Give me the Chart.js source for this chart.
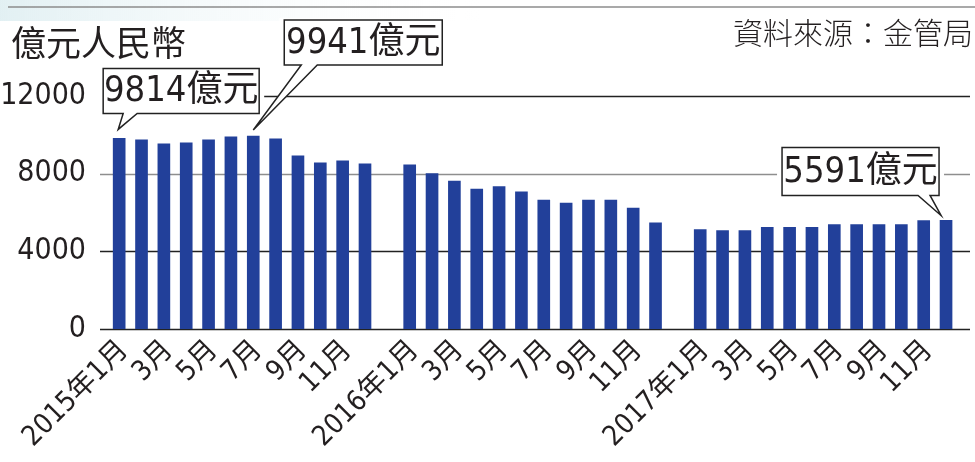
<!DOCTYPE html>
<html>
<head>
<meta charset="utf-8">
<script src="https://cdn.jsdelivr.net/npm/chart.js@4"></script>
<style>
  html, body { margin: 0; padding: 0; background: #fff; }
  canvas { display: block; }
</style>
</head>
<body>
<canvas id="chart1" width="975" height="462"></canvas>
<script>
// RMB deposits in Hong Kong, 100 million yuan
var years = ["2015", "2016", "2017"];
var months = ["1月", "2月", "3月", "4月", "5月", "6月", "7月", "8月", "9月", "10月", "11月", "12月"];
var values2015 = [9814, 9740, 9540, 9590, 9740, 9900, 9941, 9790, 8920, 8560, 8660, 8510];
var values2016 = [8460, 8000, 7620, 7210, 7330, 7070, 6640, 6490, 6640, 6640, 6230, 5470];
var values2017 = [5120, 5070, 5070, 5230, 5230, 5230, 5380, 5380, 5380, 5380, 5580, 5591];
var yTicks = [0, 4000, 8000, 12000];
var unitLabel = "億元人民幣";
var sourceLabel = "資料來源：金管局";

// one empty slot between years
var categories = [];
var values = [];
var series = [values2015, values2016, values2017];
for (var y = 0; y < years.length; y++) {
    for (var m = 0; m < 12; m++) {
        categories.push(m === 0 ? years[y] + "年" + months[m] : months[m]);
        values.push(series[y][m]);
    }
    if (y < years.length - 1) {
        categories.push("");
        values.push(null);
    }
}

// callouts: bar index, text, box placement relative to the bar top
var callouts = [
    { index: 0, text: "9814億元", dx: -16, dy: -70, w: 156, h: 45, baseL: 4, baseR: 18, tipDx: -1, tipDy: -9 },
    { index: 6, text: "9941億元", dx: 31, dy: -116, w: 158, h: 45, baseL: 48, baseR: 64, tipDx: 0, tipDy: -6 },
    { index: 37, text: "5591億元", dx: -164, dy: -73, w: 157, h: 48, baseL: -28, baseR: -16, tipDx: -5, tipDy: -5 }
];

var numFont = '"Liberation Sans Narrow", "DejaVu Sans Condensed", "Liberation Sans", "Noto Sans CJK TC"';
var cjkFont = '"Noto Sans CJK TC", "Noto Sans CJK SC", sans-serif';

var decor = {
    id: "decor",
    beforeDraw: function (chart) {
        var c = chart.ctx;
        c.save();
        var g = c.createLinearGradient(0, 0, 480, 0);
        g.addColorStop(0, "#e2f0f3");
        g.addColorStop(1, "rgba(255,255,255,0)");
        c.fillStyle = g;
        c.fillRect(0, 0, 480, 21);
        c.strokeStyle = "#8c8c8c";
        c.lineWidth = 1.5;
        c.beginPath();
        c.moveTo(8, 7);
        c.lineTo(975, 7);
        c.stroke();
        c.restore();
    },
    beforeDatasetsDraw: function (chart) {
        var c = chart.ctx;
        var ys = chart.scales.y;
        c.save();
        yTicks.forEach(function (v) {
            var py = Math.round(ys.getPixelForValue(v)) + 0.5;
            c.strokeStyle = v === 8000 ? "#8e8e8e" : "#222";
            c.lineWidth = 1.4;
            c.beginPath();
            c.moveTo(100, py);
            c.lineTo(970, py);
            c.stroke();
        });
        c.restore();
    },
    afterDraw: function (chart) {
        var c = chart.ctx;
        var meta = chart.getDatasetMeta(0);
        c.save();
        callouts.forEach(function (co) {
            var bar = meta.data[co.index];
            var cx = bar.x, ty = bar.y;
            var x0 = cx + co.dx, y0 = ty + co.dy, x1 = x0 + co.w, y1 = y0 + co.h;
            var tipX = cx + co.tipDx, tipY = ty + co.tipDy;
            // clear around box so gridlines stop short of it
            c.fillStyle = "#fff";
            c.fillRect(x0 - 5, y0 - 2, co.w + 10, co.h + 4);
            c.beginPath();
            c.moveTo(x0, y0);
            c.lineTo(x1, y0);
            c.lineTo(x1, y1);
            c.lineTo(cx + co.baseR, y1);
            c.lineTo(tipX, tipY);
            c.lineTo(cx + co.baseL, y1);
            c.lineTo(x0, y1);
            c.closePath();
            c.fill();
            c.strokeStyle = "#222";
            c.lineWidth = 1.5;
            c.lineJoin = "miter";
            c.stroke();
            c.fillStyle = "#231f20";
            c.font = "36px " + numFont;
            c.textAlign = "center";
            c.textBaseline = "middle";
            c.fillText(co.text, (x0 + x1) / 2, (y0 + y1) / 2 + 1);
        });
        c.fillStyle = "#231f20";
        c.font = "35px " + cjkFont;
        c.textAlign = "left";
        c.textBaseline = "middle";
        c.fillText(unitLabel, 11, 43);
        c.font = "300 30px " + cjkFont;
        c.textAlign = "right";
        c.fillText(sourceLabel, 973, 33);
        c.restore();
    }
};

var ctx = document.getElementById("chart1").getContext("2d");
var myChart = new Chart(ctx, {
    type: "bar",
    data: {
        labels: categories,
        datasets: [
            {
                data: values,
                backgroundColor: "#22409a",
                barThickness: 12,
                borderWidth: 0
            }
        ]
    },
    options: {
        responsive: false,
        animation: false,
        devicePixelRatio: 1,
        layout: { padding: { top: 96, right: 15, bottom: 0, left: 0 } },
        plugins: {
            legend: { display: false },
            tooltip: { enabled: false }
        },
        scales: {
            x: {
                offset: true,
                grid: { display: false, drawTicks: false },
                border: { display: false },
                afterFit: function (scale) { scale.height = 133; },
                ticks: {
                    autoSkip: false,
                    maxRotation: 45,
                    minRotation: 45,
                    padding: 5,
                    labelOffset: 5,
                    color: "#231f20",
                    font: { family: numFont, size: 28 },
                    callback: function (val, i) {
                        var lab = categories[i];
                        if (!lab) return "";
                        var m = parseInt(lab.replace(/^\d+年/, ""), 10);
                        return m % 2 === 1 ? lab : "";
                    }
                }
            },
            y: {
                min: 0,
                max: 12000,
                afterFit: function (scale) { scale.width = 108; },
                afterBuildTicks: function (scale) {
                    scale.ticks = yTicks.map(function (v) { return { value: v }; });
                },
                grid: { display: false, drawTicks: false },
                border: { display: false },
                ticks: {
                    padding: 22,
                    color: "#231f20",
                    font: { family: numFont, size: 30 },
                    callback: function (v) { return String(v); }
                }
            }
        }
    },
    plugins: [decor]
});
</script>
</body>
</html>
